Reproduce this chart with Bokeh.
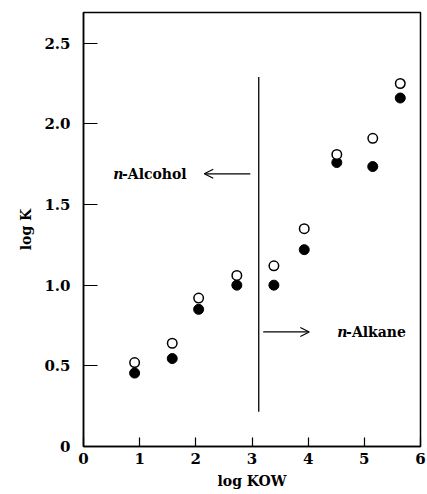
from bokeh.plotting import figure
from bokeh.models import Range1d, FixedTicker, Label, Arrow, OpenHead
from bokeh.embed import file_html
from bokeh.resources import INLINE

# data
log_kow = [0.91, 1.58, 2.05, 2.73, 3.39, 3.93, 4.51, 5.15, 5.64]
log_k_open = [0.52, 0.64, 0.92, 1.06, 1.12, 1.35, 1.81, 1.91, 2.25]
log_k_filled = [0.455, 0.545, 0.85, 1.00, 1.00, 1.22, 1.76, 1.735, 2.16]
x_ticks = [0, 1, 2, 3, 4, 5, 6]
y_ticks = [0, 0.5, 1.0, 1.5, 2.0, 2.5]
y_tick_labels = {0: "0", 0.5: "0.5", 1.0: "1.0", 1.5: "1.5", 2.0: "2.0", 2.5: "2.5"}
divider_x = 3.12

FONT = "DejaVu Serif"

p = figure(width=427, height=494, output_backend="svg", toolbar_location=None,
           x_range=Range1d(0, 6), y_range=Range1d(0, 2.69),
           min_border_left=83, min_border_right=7, min_border_top=12, min_border_bottom=48)
p.grid.visible = False
p.outline_line_color = "black"
p.outline_line_width = 1.5
p.outline_line_alpha = 1
p.background_fill_color = "white"
p.border_fill_color = "white"

for ax, ticks, tin in ((p.xaxis, x_ticks, 9), (p.yaxis, y_ticks, 14)):
    ax.ticker = FixedTicker(ticks=ticks)
    ax.major_tick_in = tin
    ax.major_tick_out = 0
    ax.minor_tick_line_color = None
    ax.axis_line_width = 1.5
    ax.major_tick_line_width = 1.2
    ax.major_label_text_font = FONT
    ax.major_label_text_font_style = "bold"
    ax.major_label_text_font_size = "15px"
    ax.major_label_text_color = "black"
    ax.axis_label_text_font = FONT
    ax.axis_label_text_font_style = "bold"
    ax.axis_label_text_font_size = "14px"
    ax.axis_label_text_color = "black"
p.yaxis.major_label_overrides = y_tick_labels
p.xaxis.major_label_standoff = 6
p.yaxis.major_label_standoff = 13
p.xaxis.axis_label = "log KOW"
p.yaxis.axis_label = "log K"
p.xaxis.axis_label_standoff = 6
p.yaxis.axis_label_standoff = 7

# divider line
p.segment(x0=[divider_x], y0=[0.215], x1=[divider_x], y1=[2.29], line_color="black", line_width=1.3)

# points
p.scatter(log_kow, log_k_filled, size=10, marker="circle", fill_color="black", line_color="black")
p.scatter(log_kow, log_k_open, size=9.5, marker="circle", fill_color="white", line_color="black", line_width=1.5)

# arrows
p.add_layout(Arrow(end=OpenHead(size=9, line_color="black", line_width=1.2),
                   x_start=2.97, y_start=1.69, x_end=2.15, y_end=1.69, line_width=1.2))
p.add_layout(Arrow(end=OpenHead(size=9, line_color="black", line_width=1.2),
                   x_start=3.2, y_start=0.71, x_end=4.02, y_end=0.71, line_width=1.2))

def lab(x, y, text, style="bold", size="14px"):
    p.add_layout(Label(x=x, y=y, text=text, text_font=FONT, text_font_style=style,
                       text_font_size=size, text_align="left",
                       text_baseline="middle", text_color="black"))

# annotations
lab(0.53, 1.69, "n", style="bold italic")
lab(0.685, 1.69, "-Alcohol")
lab(4.52, 0.71, "n", style="bold italic")
lab(4.675, 0.71, "-Alkane")

open("out.html", "w").write(file_html(p, INLINE))
